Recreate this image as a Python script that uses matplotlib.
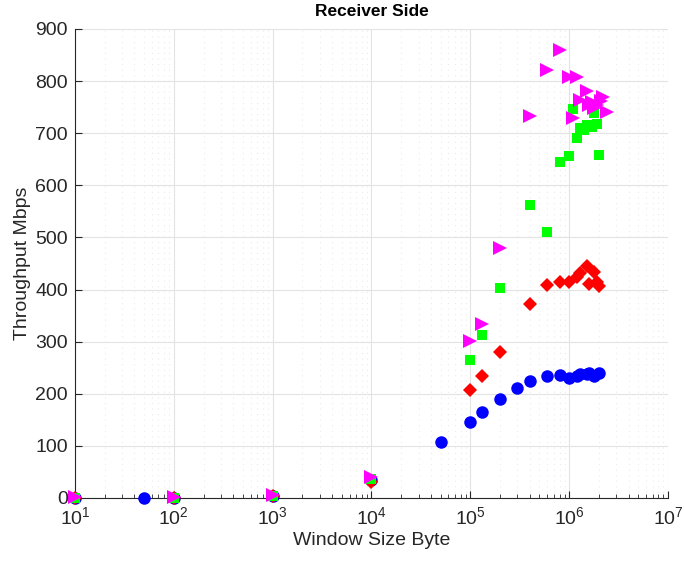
import matplotlib
matplotlib.use("Agg")
import matplotlib.pyplot as plt
from matplotlib.ticker import FixedLocator, NullFormatter, MultipleLocator

plt.rcParams["font.family"] = ["Liberation Sans", "DejaVu Sans"]
plt.rcParams["mathtext.fontset"] = "custom"
plt.rcParams["mathtext.rm"] = "Liberation Sans"
plt.rcParams["mathtext.it"] = "Liberation Sans:italic"
plt.rcParams["mathtext.bf"] = "Liberation Sans:bold"

# Throughput (Mbps) versus TCP window size (bytes), one series per configuration
blue_x = [10, 50, 100, 1e3, 1e4, 5e4, 1e5, 1.3e5, 2e5, 3e5, 4e5, 6e5, 8e5,
          1e6, 1.2e6, 1.3e6, 1.5e6, 1.6e6, 1.8e6, 2e6]
blue_y = [0.5, 0.5, 0.5, 3, 34, 107, 146, 165, 190, 211, 224, 234, 236,
          230, 234, 237, 238, 239, 234, 240]

red_x = [10, 100, 1e3, 1e4, 1e5, 1.3e5, 2e5, 4e5, 6e5, 8e5,
         1e6, 1.2e6, 1.3e6, 1.5e6, 1.6e6, 1.8e6, 1.9e6, 2e6]
red_y = [0.5, 0.5, 3, 31, 208, 234, 281, 373, 408, 414,
         415, 424, 432, 445, 410, 434, 414, 406]

green_x = [10, 100, 1e3, 1e4, 1e5, 1.3e5, 2e5, 4e5, 6e5, 8e5,
           1e6, 1.1e6, 1.2e6, 1.3e6, 1.4e6, 1.5e6, 1.7e6, 1.8e6, 1.9e6, 2e6]
green_y = [0.5, 0.5, 4, 36, 265, 313, 403, 562, 511, 645,
           656, 747, 691, 710, 706, 716, 712, 739, 718, 658]

magenta_x = [10, 100, 1e3, 1e4, 1e5, 1.3e5, 2e5, 4e5, 6e5, 8e5,
             1e6, 1.1e6, 1.2e6, 1.3e6, 1.5e6, 1.6e6, 1.7e6, 1.8e6, 1.9e6,
             2.1e6, 2.2e6, 2.4e6]
magenta_y = [1, 1, 5, 41, 301, 334, 480, 733, 821, 860,
             808, 729, 808, 764, 781, 754, 760, 749, 754,
             762, 770, 741]

x_exponents = [1, 2, 3, 4, 5, 6, 7]
x_label = "Window Size Byte"
y_label = "Throughput Mbps"
title = "Receiver Side"

fig = plt.figure(figsize=(6.84, 5.63), dpi=100)
ax = fig.add_axes([0.1096, 0.1155, 0.867, 0.833])

ax.plot(blue_x, blue_y, "o", color=(0, 0, 1), markersize=9, markeredgewidth=0,
        zorder=3, clip_on=False)
ax.plot(red_x, red_y, "D", color=(1, 0, 0), markersize=7.5, markeredgewidth=0,
        zorder=4, clip_on=False)
ax.plot(green_x, green_y, "s", color=(0, 1, 0), markersize=7, markeredgewidth=0,
        zorder=5, clip_on=False)
ax.plot(magenta_x, magenta_y, ">", color=(1, 0, 1), markersize=10, markeredgewidth=0,
        zorder=6, clip_on=False)

ax.set_xscale("log")
ax.set_xlim(10, 1e7)
ax.set_ylim(0, 900)
ax.yaxis.set_major_locator(MultipleLocator(100))

major_x = [10.0 ** e for e in x_exponents]
minor_x = [m * 10.0 ** e for e in x_exponents[:-1] for m in range(2, 10)]
ax.xaxis.set_major_locator(FixedLocator(major_x))
ax.set_xticklabels([rf"$\mathdefault{{10^{{{e}}}}}$" for e in x_exponents])
ax.xaxis.set_minor_locator(FixedLocator(minor_x))
ax.xaxis.set_minor_formatter(NullFormatter())

ax.grid(True, which="major", color="#e3e3e3", linewidth=0.8)
ax.grid(True, which="minor", axis="x", color="#ebebeb", linewidth=0.8,
        linestyle=(0, (1, 4)))
ax.set_axisbelow(True)

for side in ("top", "right"):
    ax.spines[side].set_visible(False)
for side in ("left", "bottom"):
    ax.spines[side].set_color("#262626")
    ax.spines[side].set_linewidth(0.8)

ax.tick_params(which="both", direction="in", color="#262626", labelcolor="#262626",
               labelsize=14)
ax.tick_params(which="major", length=5)
ax.tick_params(which="minor", length=3)
ax.tick_params(axis="x", pad=6)
ax.tick_params(axis="y", pad=5)

ax.set_xlabel(x_label, fontsize=14, color="#262626", labelpad=3)
ax.set_ylabel(y_label, fontsize=14, color="#262626", labelpad=3)
ax.set_title(title, fontsize=12.5, fontweight="bold", color="black", pad=9)

fig.savefig("out.png", dpi=100, facecolor="white")
